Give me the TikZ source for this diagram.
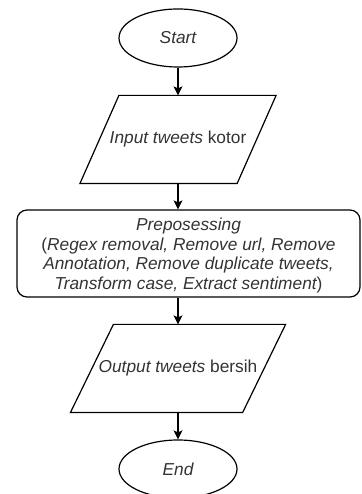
\documentclass[tikz,border=0pt]{standalone}
\usepackage{fontspec}
\setmainfont{Liberation Sans}
\usetikzlibrary{shapes.geometric, arrows.meta, positioning}
\definecolor{inkgray}{HTML}{333333}

\begin{document}
\begin{tikzpicture}[x=1pt, y=1pt, line width=1.2pt,
    flowtext/.style={font=\fontsize{17.3}{19.5}\selectfont\color{inkgray}, align=center, inner sep=0pt},
    terminal/.style={draw, ellipse, minimum width=118pt, minimum height=58pt, inner sep=0pt},
    iobox/.style={minimum height=87pt, inner sep=0pt},
    procbox/.style={draw, rounded corners=10pt, minimum width=343pt, minimum height=87pt, inner sep=0pt},
    flow/.style={-{Stealth[length=9pt, width=9pt, inset=2pt]}}]
  \useasboundingbox (0,0) rectangle (361,494);

  % Start
  \node[terminal] (start) at (178,456) {};
  \node[flowtext] at (start) {\itshape Start};

  % Input
  \node[iobox, minimum width=195pt] (input) at (178,354.5) {};
  \draw ([xshift=39pt]input.north west) -- (input.north east)
    -- ([xshift=-39pt]input.south east) -- (input.south west) -- cycle;
  \node[flowtext] at (input) {\itshape Input tweets \upshape kotor};

  % Preprocessing
  \node[procbox] (prep) at (188.5,240.5) {};
  \node[flowtext] at (188.5,238.5) {\itshape Preposessing\\
    \upshape(\itshape Regex removal, Remove url, Remove\\
    \itshape Annotation, Remove duplicate tweets,\\
    \itshape Transform case, Extract sentiment\upshape)};

  % Output
  \node[iobox, minimum width=214pt] (output) at (178,125.5) {};
  \draw ([xshift=43pt]output.north west) -- (output.north east)
    -- ([xshift=-43pt]output.south east) -- (output.south west) -- cycle;
  \node[flowtext] at (output) {\itshape Output tweets \upshape bersih};

  % End
  \node[terminal] (end) at (178,25) {};
  \node[flowtext] at (end) {\itshape End};

  % Connections
  \draw[flow] (start) -- (input);
  \draw[flow] (input.south) -- (input.south |- prep.north);
  \draw[flow] (output.north |- prep.south) -- (output.north);
  \draw[flow] (output) -- (end);
\end{tikzpicture}
\end{document}
